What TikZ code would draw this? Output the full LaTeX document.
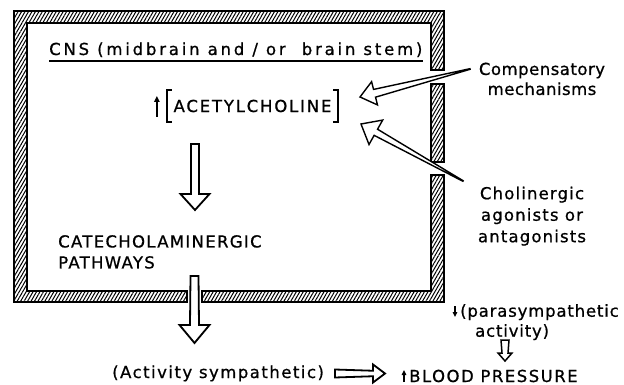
\documentclass[tikz,border=0pt]{standalone}
\usepackage{fontspec}
\setmainfont[FakeBold=0.8]{DejaVu Sans}
\usepackage{tikz}
\usetikzlibrary{arrows.meta,calc,patterns.meta}
\newcommand{\lsp}[1]{\addfontfeature{LetterSpace=#1}}

\begin{document}
\begin{tikzpicture}[
  x=1pt,y=-1pt,
  every node/.style={inner sep=0pt,font=\fontsize{16.5}{21}\selectfont},
  band/.style={draw,line width=1.8pt,line join=miter,
               pattern={Lines[angle=60,distance=3pt,line width=1pt]}},
  tail w/.store in=\tailw, shaft w/.store in=\shaftw,
  head w/.store in=\headw, head l/.store in=\headl,
  tail w=4pt, shaft w=4pt, head w=14pt, head l=16pt,
  block/.style={draw,line width=1.8pt,fill=white,line join=miter,
    to path={let \p1=($(\tikztotarget)!\headl!(\tikztostart)$) in
      ($(\tikztostart)!\tailw!90:(\tikztotarget)$)
      -- ($(\p1)!\shaftw!-90:(\tikztostart)$)
      -- ($(\p1)!\headw!-90:(\tikztostart)$)
      -- (\tikztotarget)
      -- ($(\p1)!\headw!90:(\tikztostart)$)
      -- ($(\p1)!\shaftw!90:(\tikztostart)$)
      -- ($(\tikztostart)!\tailw!-90:(\tikztotarget)$)
      -- cycle}},
  wedge/.style={block,line width=1.4pt,tail w=0.3pt},
  bracket/.style={line width=1.6pt},
  updown/.style={line width=1.4pt,-{Triangle[length=5pt,width=4.5pt]}}
]
\useasboundingbox (0,0) rectangle (624,385);

% hatched wall of the CNS box, open where the arrows pass
\path[band] (444,70) -- (444,11) -- (14,11) -- (14,302) -- (187,302)
  -- (187,291) -- (27,291) -- (27,23) -- (431,23) -- (431,70) -- cycle;
\path[band] (202,302) -- (444,302) -- (444,175) -- (431,175)
  -- (431,291) -- (202,291) -- cycle;
\path[band] (431,84) rectangle (444,162);

% inside the box
\node[anchor=base west,font=\fontsize{16.5}{21}\selectfont\lsp{17}] (cns) at (49,55)
  {CNS (midbrain and / or\ \ brain stem)};
\draw[line width=1.4pt] ([yshift=-6pt]cns.base west) -- ([yshift=-6pt]cns.base east);

\node[minimum height=32pt,inner xsep=6.5pt,font=\fontsize{16.5}{21}\selectfont\lsp{11}]
  (acetyl) at (252.5,106) {ACETYLCHOLINE};
\draw[bracket] ([xshift=5pt]acetyl.north west) -- (acetyl.north west)
  -- (acetyl.south west) -- ([xshift=5pt]acetyl.south west);
\draw[bracket] ([xshift=-5pt]acetyl.north east) -- (acetyl.north east)
  -- (acetyl.south east) -- ([xshift=-5pt]acetyl.south east);
\draw[updown,-{Triangle[length=6pt,width=5.5pt]}]
  ([xshift=-10pt,yshift=-11pt]acetyl.west) -- ([xshift=-10pt,yshift=10pt]acetyl.west);

\node[anchor=north west,align=left,font=\fontsize{16.5}{21}\selectfont\lsp{8}]
  (catechol) at (58,235) {CATECHOLAMINERGIC\\PATHWAYS};

% outside the box
\node[anchor=north,align=center,font=\fontsize{16.5}{20}\selectfont\lsp{3}]
  (comp) at (542,62.5) {Compensatory\\mechanisms};
\node[anchor=north,align=center,font=\fontsize{16.5}{21.5}\selectfont\lsp{7}]
  (chol) at (532,186.5) {Cholinergic\\agonists or\\antagonists};
\node[anchor=north west,align=left,font=\fontsize{16.5}{20}\selectfont\lsp{5}]
  (para) at (460,304) {(parasympathetic\\\hspace*{15pt}activity)};
\draw[updown] ([xshift=-5pt,yshift=-2pt]para.north west)
  -- ([xshift=-5pt,yshift=-13pt]para.north west);
\node[anchor=base west,font=\fontsize{16.5}{21}\selectfont\lsp{9}] (sympa) at (112,378)
  {(Activity sympathetic)};
\node[anchor=base west,font=\fontsize{16.5}{21}\selectfont\lsp{9}] (blood) at (409,382)
  {BLOOD PRESSURE};
\draw[updown] ([xshift=-5pt]blood.base west) -- ([xshift=-5pt,yshift=12pt]blood.base west);

% arrow ends
\coordinate (acetylOut) at (195,144);
\coordinate (catecholIn) at (195,210);
\coordinate (catecholOut) at (194.5,276);
\coordinate (sympaIn) at (194.5,343);
\coordinate (sympaOut) at (335,373.5);
\coordinate (bloodIn) at (385,373.5);
\coordinate (paraOut) at (505,340);
\coordinate (bloodTop) at (505,361);
\coordinate (compOut) at (470,69);
\coordinate (acetylIn1) at (360,97);
\coordinate (cholOut) at (463,181);
\coordinate (acetylIn2) at (361,124);

% arrows
\draw[block,shaft w=4pt,head w=14.5pt,head l=16pt] (acetylOut) to (catecholIn);
\draw[block,shaft w=4.5pt,head w=15pt,head l=18pt] (catecholOut) to (sympaIn);
\draw[block,shaft w=2.75pt,head w=9pt,head l=12pt] (sympaOut) to (bloodIn);
\draw[block,line width=1.5pt,shaft w=3pt,head w=7pt,head l=8pt] (paraOut) to (bloodTop);
\draw[wedge,shaft w=4pt,head w=12pt,head l=15pt] (compOut) to (acetylIn1);
\draw[wedge,shaft w=3.5pt,head w=14pt,head l=17pt] (cholOut) to (acetylIn2);
\end{tikzpicture}
\end{document}
